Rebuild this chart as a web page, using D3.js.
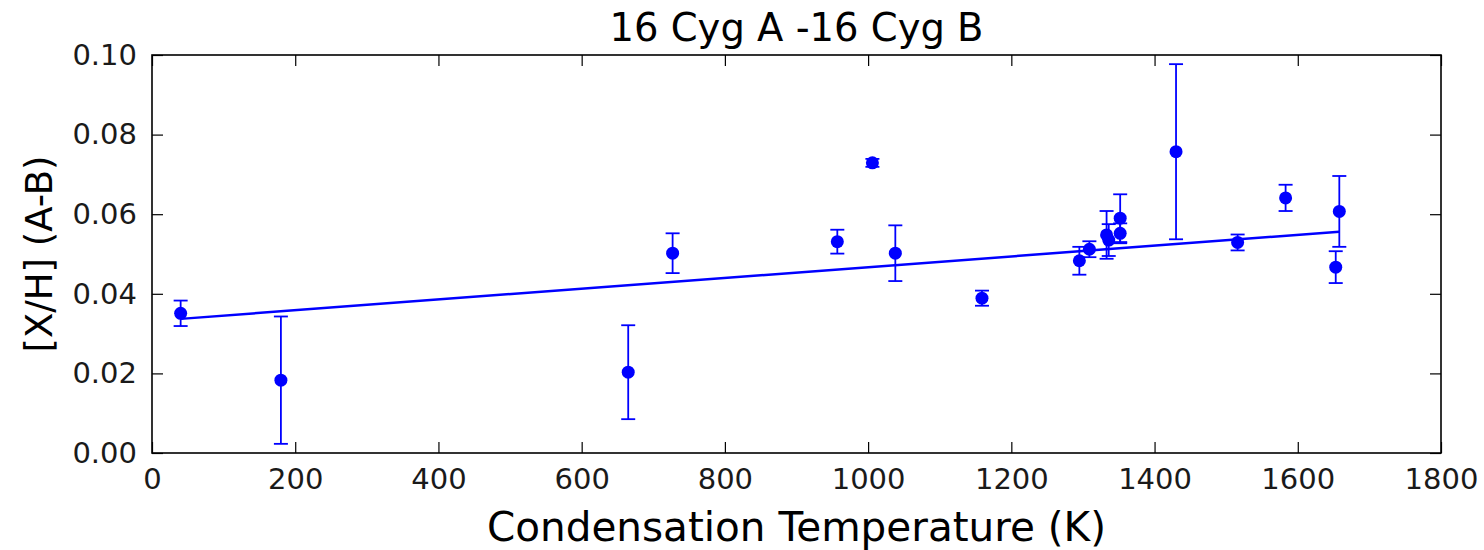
<!DOCTYPE html>
<html>
<head>
<meta charset="utf-8">
<script src="https://cdn.jsdelivr.net/npm/d3@7"></script>
<style>
  body { margin: 0; background: #fff; }
  svg { font-family: "DejaVu Sans", sans-serif; }
</style>
</head>
<body>
<svg width="1484" height="550"></svg>
<script>
// condensation temperature (K), [X/H] difference A-B and its error
const tcond = [40, 180, 665, 727, 957, 1006, 1038, 1159, 1295, 1309, 1333, 1336, 1352, 1352, 1430, 1516, 1583, 1658, 1653];
const dxh = [0.0351, 0.0183, 0.0203, 0.0502, 0.0531, 0.0729, 0.0502, 0.0389, 0.0483, 0.0512, 0.0548, 0.0535, 0.0590, 0.0552, 0.0757, 0.0529, 0.0641, 0.0607, 0.0467];
const errs = [0.0032, 0.0160, 0.0118, 0.0050, 0.0030, 0.0010, 0.0070, 0.0019, 0.0035, 0.0020, 0.0060, 0.0040, 0.0060, 0.0025, 0.0220, 0.0020, 0.0033, 0.0089, 0.0040];

// linear fit endpoints
const fitX = [40, 1658];
const fitY = [0.0337, 0.0556];

const xTicks = [0, 200, 400, 600, 800, 1000, 1200, 1400, 1600, 1800];
const yTicks = [0, 0.02, 0.04, 0.06, 0.08, 0.10];

const margin = { top: 55, right: 43, bottom: 97, left: 152 },
    width = 1484 - margin.left - margin.right,
    height = 550 - margin.top - margin.bottom;

const svg = d3.select("svg");
const g = svg.append("g")
    .attr("transform", `translate(${margin.left}, ${margin.top})`);

const x = d3.scaleLinear().domain([0, 1800]).range([0, width]);
const y = d3.scaleLinear().domain([0, 0.10]).range([height, 0]);

const data = tcond.map((t, i) => ({ t: t, v: dxh[i], e: errs[i] }));

// axes, ticks pointing inward
const tickLen = 11;
g.append("g")
    .attr("transform", `translate(0, ${height})`)
    .call(d3.axisBottom(x).tickValues(xTicks).tickFormat(d3.format("d"))
        .tickSizeInner(-tickLen).tickSizeOuter(0).tickPadding(15));
g.append("g")
    .call(d3.axisLeft(y).tickValues(yTicks).tickFormat(d3.format(".2f"))
        .tickSizeInner(-tickLen).tickSizeOuter(0).tickPadding(15));
g.append("g")
    .call(d3.axisTop(x).tickValues(xTicks).tickSizeInner(-tickLen).tickSizeOuter(0).tickFormat(""));
g.append("g")
    .attr("transform", `translate(${width}, 0)`)
    .call(d3.axisRight(y).tickValues(yTicks).tickSizeInner(-tickLen).tickSizeOuter(0).tickFormat(""));

g.selectAll(".domain").remove();
g.selectAll(".tick line").attr("stroke", "#000").attr("stroke-width", 1.2);
g.selectAll(".tick text").attr("font-size", "29px").attr("fill", "#1a1a1a")
    .attr("font-family", "DejaVu Sans, sans-serif");

// fit line
const line = d3.line().x(d => x(d[0])).y(d => y(d[1]));
g.append("path")
    .datum(fitX.map((t, i) => [t, fitY[i]]))
    .attr("d", line)
    .attr("fill", "none")
    .attr("stroke", "#0000ff")
    .attr("stroke-width", 2.5);

// error bars
const cap = 7;
const eb = g.selectAll(".eb").data(data).enter().append("g").attr("class", "eb")
    .attr("stroke", "#0000ff").attr("stroke-width", 1.8);
eb.append("line")
    .attr("x1", d => x(d.t)).attr("x2", d => x(d.t))
    .attr("y1", d => y(d.v - d.e)).attr("y2", d => y(d.v + d.e));
eb.append("line")
    .attr("x1", d => x(d.t) - cap).attr("x2", d => x(d.t) + cap)
    .attr("y1", d => y(d.v + d.e)).attr("y2", d => y(d.v + d.e));
eb.append("line")
    .attr("x1", d => x(d.t) - cap).attr("x2", d => x(d.t) + cap)
    .attr("y1", d => y(d.v - d.e)).attr("y2", d => y(d.v - d.e));

// markers
g.selectAll("circle").data(data).enter().append("circle")
    .attr("cx", d => x(d.t))
    .attr("cy", d => y(d.v))
    .attr("r", 6.5)
    .attr("fill", "#0000ff");

// frame
g.append("rect")
    .attr("width", width).attr("height", height)
    .attr("fill", "none").attr("stroke", "#000").attr("stroke-width", 1.6);

// title
g.append("text")
    .attr("x", width / 2)
    .attr("y", -14)
    .attr("font-size", "38.5px")
    .attr("text-anchor", "middle")
    .text("16 Cyg A -16 Cyg B");

// X label
g.append("text")
    .attr("x", width / 2)
    .attr("y", height + 88)
    .attr("font-size", "40.5px")
    .attr("text-anchor", "middle")
    .text("Condensation Temperature (K)");

// Y label
g.append("text")
    .attr("x", -(height / 2))
    .attr("y", -100)
    .attr("font-size", "37px")
    .attr("text-anchor", "middle")
    .attr("transform", "rotate(-90)")
    .text("[X/H] (A-B)");
</script>
</body>
</html>
